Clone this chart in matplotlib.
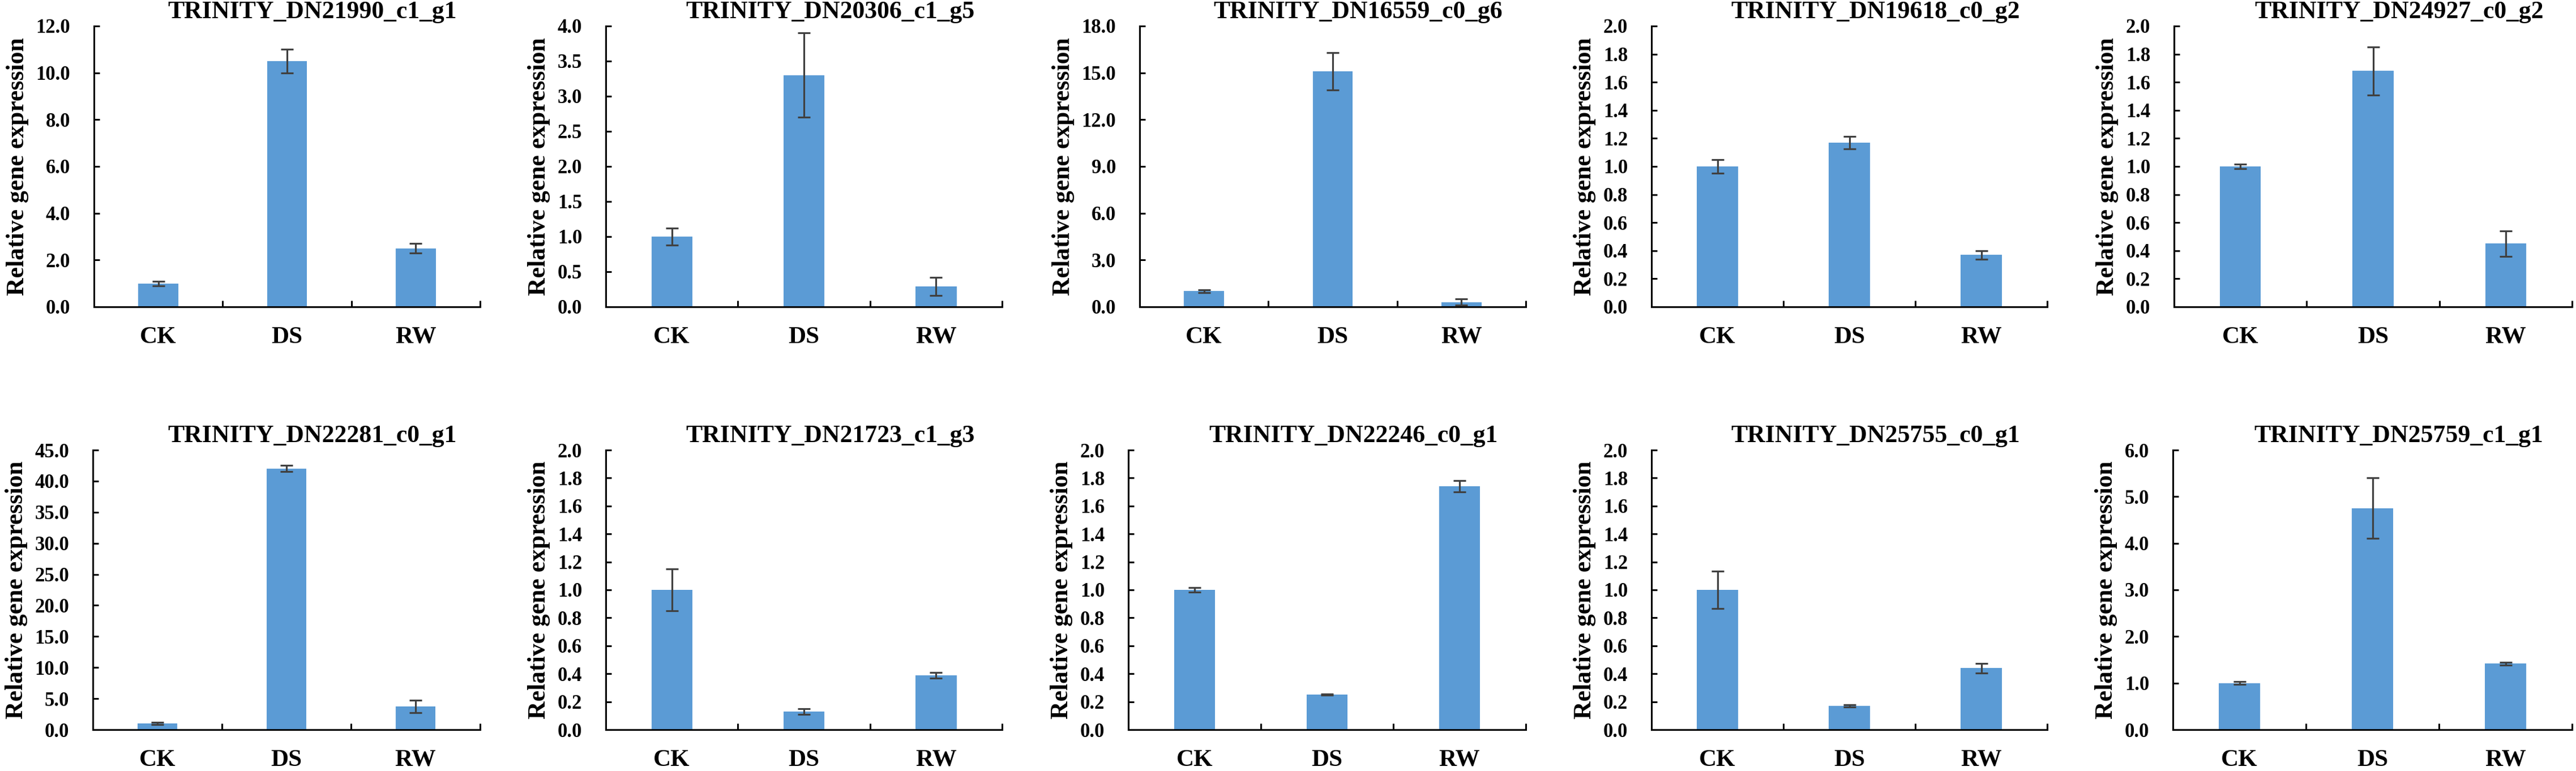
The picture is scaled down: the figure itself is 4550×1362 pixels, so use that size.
import matplotlib
matplotlib.use("Agg")
import matplotlib.pyplot as plt
import numpy as np

plt.rcParams['font.family'] = ['Liberation Serif', 'DejaVu Serif']
plt.rcParams['font.weight'] = 'bold'

# Groups and genes
groups = ['CK', 'DS', 'RW']
genes = [
    'TRINITY_DN21990_c1_g1', 'TRINITY_DN20306_c1_g5', 'TRINITY_DN16559_c0_g6',
    'TRINITY_DN19618_c0_g2', 'TRINITY_DN24927_c0_g2',
    'TRINITY_DN22281_c0_g1', 'TRINITY_DN21723_c1_g3', 'TRINITY_DN22246_c0_g1',
    'TRINITY_DN25755_c0_g1', 'TRINITY_DN25759_c1_g1',
]

# Mean relative expression (CK, DS, RW) per gene
means = [
    [1.0, 10.5, 2.5],
    [1.0, 3.3, 0.29],
    [1.0, 15.1, 0.3],
    [1.0, 1.17, 0.37],
    [1.0, 1.68, 0.45],
    [1.0, 42.0, 3.7],
    [1.0, 0.13, 0.39],
    [1.0, 0.25, 1.74],
    [1.0, 0.17, 0.44],
    [1.0, 4.75, 1.42],
]

# Error bars
errors = [
    [0.1, 0.5, 0.2],
    [0.12, 0.6, 0.13],
    [0.1, 1.2, 0.2],
    [0.05, 0.045, 0.03],
    [0.015, 0.17, 0.09],
    [0.2, 0.5, 1.0],
    [0.15, 0.02, 0.02],
    [0.015, 0.005, 0.04],
    [0.135, 0.01, 0.035],
    [0.03, 0.65, 0.03],
]

# Y-axis maximum and tick step per panel
y_max = [12, 4, 18, 2, 2, 45, 2, 2, 2, 6]
y_step = [2, 0.5, 3, 0.2, 0.2, 5, 0.2, 0.2, 0.2, 1]

W, H = 4550, 1362
fig = plt.figure(figsize=(W / 100, H / 100), dpi=100)

# axes boxes in pixels: (left, right) per column, (top, bottom) per row
rows = [(46, 542), (795, 1289)]
cols = [
    [(166, 848), (1070, 1770), (2013, 2695), (2917, 3616), (3840, 4543)],
    [(164, 848), (1070, 1770), (1993, 2695), (2917, 3616), (3838, 4543)],
]

bar_color = '#5B9BD5'
err_color = '#404040'

for i, gene in enumerate(genes):
    r, c = divmod(i, 5)
    left, right = cols[r][c]
    top, bottom = rows[r]
    ax = fig.add_axes([left / W, 1 - bottom / H, (right - left) / W, (bottom - top) / H])

    x = np.arange(len(groups))
    ax.bar(x, means[i], width=0.31, color=bar_color, zorder=2)
    ax.errorbar(x, means[i], yerr=errors[i], fmt='none', ecolor=err_color,
                elinewidth=2.3, capsize=8, capthick=2.3, zorder=3)

    ax.set_xlim(-0.5, 2.5)
    ax.set_ylim(0, y_max[i])
    ticks = np.arange(0, y_max[i] + y_step[i] / 2, y_step[i])
    ax.set_yticks(ticks)
    ax.set_yticklabels(['%.1f' % v for v in ticks])

    # category labels in the middle, tick marks on the boundaries
    ax.set_xticks([0.5, 1.5, 2.5])
    ax.set_xticklabels([])
    ax.set_xticks(x, minor=True)
    ax.set_xticklabels(groups, minor=True)
    ax.tick_params(axis='x', which='major', direction='in', length=8, width=2.2)
    ax.tick_params(axis='x', which='minor', length=0, pad=25, labelsize=31)
    ax.tick_params(axis='y', direction='in', length=7, width=2.2, pad=30, labelsize=25)

    for s in ['top', 'right']:
        ax.spines[s].set_visible(False)
    for s in ['left', 'bottom']:
        ax.spines[s].set_linewidth(2.2)

    ax.set_ylabel('Relative gene expression', fontsize=31.5, fontweight='bold', labelpad=9)
    ax.annotate(gene, xy=(0.566, 1.0), xycoords='axes fraction', xytext=(0, 10),
                textcoords='offset points', ha='center', va='baseline',
                fontsize=31.5, fontweight='bold')

fig.savefig('out.png', dpi=100)
